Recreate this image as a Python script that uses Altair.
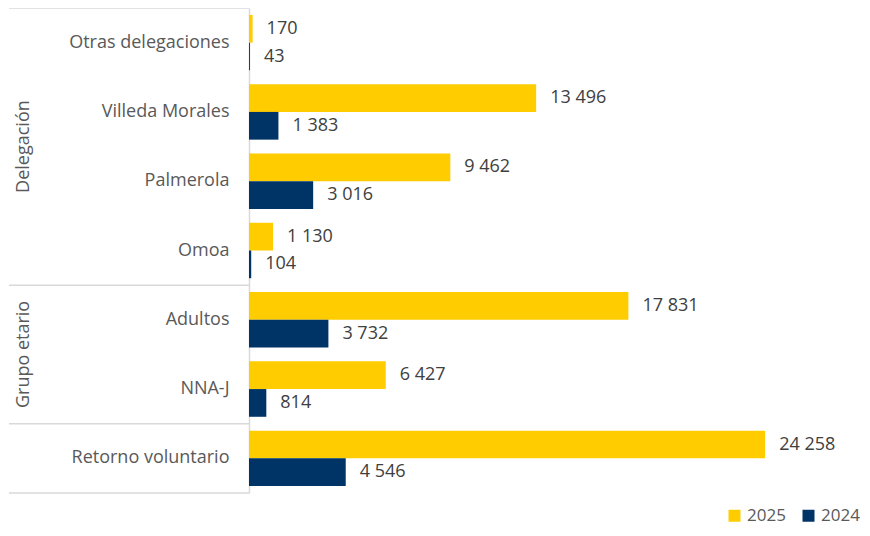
import altair as alt
import pandas as pd

categories = ["Otras delegaciones", "Villeda Morales", "Palmerola", "Omoa",
              "Adultos", "NNA-J", "Retorno voluntario"]
v2025 = [170, 13496, 9462, 1130, 17831, 6427, 24258]
v2024 = [43, 1383, 3016, 104, 3732, 814, 4546]
years = ["2025", "2024"]
colors = ["#FFCC00", "#003366"]

group_names = ["Delegación", "Grupo etario"]
group_anchor = ["Palmerola", "NNA-J"]          # label sits on the top edge of this band
sep_top = ["Otras delegaciones", "Adultos", "Retorno voluntario"]
sep_bottom = ["Retorno voluntario"]

rows = []
for c, a, b in zip(categories, v2025, v2024):
    for y, v in zip(years, (a, b)):
        rows.append({"cat": c, "year": y, "value": v,
                     "label": f"{v:,}".replace(",", " ")})
df = pd.DataFrame(rows)

FONT = "Open Sans"
ysc = alt.Scale(domain=categories, paddingInner=0, paddingOuter=0)
yoff = alt.YOffset("year:N", sort=years,
                   scale=alt.Scale(domain=years, paddingInner=0, paddingOuter=0.25))
xsc = alt.Scale(domain=[0, 28200], nice=False)

base = alt.Chart(df)
bars = base.mark_bar().encode(
    y=alt.Y("cat:N", scale=ysc, sort=categories,
            axis=alt.Axis(title=None, ticks=False, labelFontSize=18, labelColor="#595959",
                          labelFont=FONT, labelPadding=20, domainColor="#D9D9D9",
                          domainWidth=1.5, labelLimit=300)),
    yOffset=yoff,
    x=alt.X("value:Q", scale=xsc, axis=None),
    color=alt.Color("year:N", sort=years,
                    scale=alt.Scale(domain=years, range=colors),
                    legend=alt.Legend(title=None, orient="none", legendX=477, legendY=499,
                                      direction="horizontal", symbolType="square",
                                      symbolSize=144, symbolStrokeWidth=0,
                                      labelFontSize=17, labelFont=FONT, labelColor="#595959",
                                      labelOffset=4, columnPadding=14)),
)
texts = base.mark_text(align="left", baseline="middle", dx=14, fontSize=18,
                       font=FONT, color="#404040").encode(
    y=alt.Y("cat:N", scale=ysc, sort=categories),
    yOffset=yoff,
    x=alt.X("value:Q", scale=xsc),
    text="label:N",
)

gdf = pd.DataFrame({"cat": group_anchor, "name": group_names})
glabels = alt.Chart(gdf).mark_text(angle=270, align="center", baseline="middle",
                                   fontSize=18, font=FONT, color="#595959").encode(
    y=alt.Y("cat:N", scale=ysc, sort=categories, bandPosition=0),
    x=alt.value(-225),
    text="name:N",
)

stop = pd.DataFrame({"cat": sep_top})
sbot = pd.DataFrame({"cat": sep_bottom})
rule_top = alt.Chart(stop).mark_rule(color="#D9D9D9", strokeWidth=1.5).encode(
    y=alt.Y("cat:N", scale=ysc, sort=categories, bandPosition=0),
    x=alt.value(-240), x2=alt.value(0),
)
rule_bot = alt.Chart(sbot).mark_rule(color="#D9D9D9", strokeWidth=1.5).encode(
    y=alt.Y("cat:N", scale=ysc, sort=categories, bandPosition=1),
    x=alt.value(-240), x2=alt.value(0),
)

chart = alt.layer(rule_top, rule_bot, bars, texts, glabels).properties(
    width=600, height=485,
    autosize=alt.AutoSizeParams(type="none"),
    padding={"left": 241, "top": 0, "right": 13, "bottom": 35},
).configure_view(stroke=None)

chart.save("out.html", embed_options={"renderer": "svg", "actions": False})
